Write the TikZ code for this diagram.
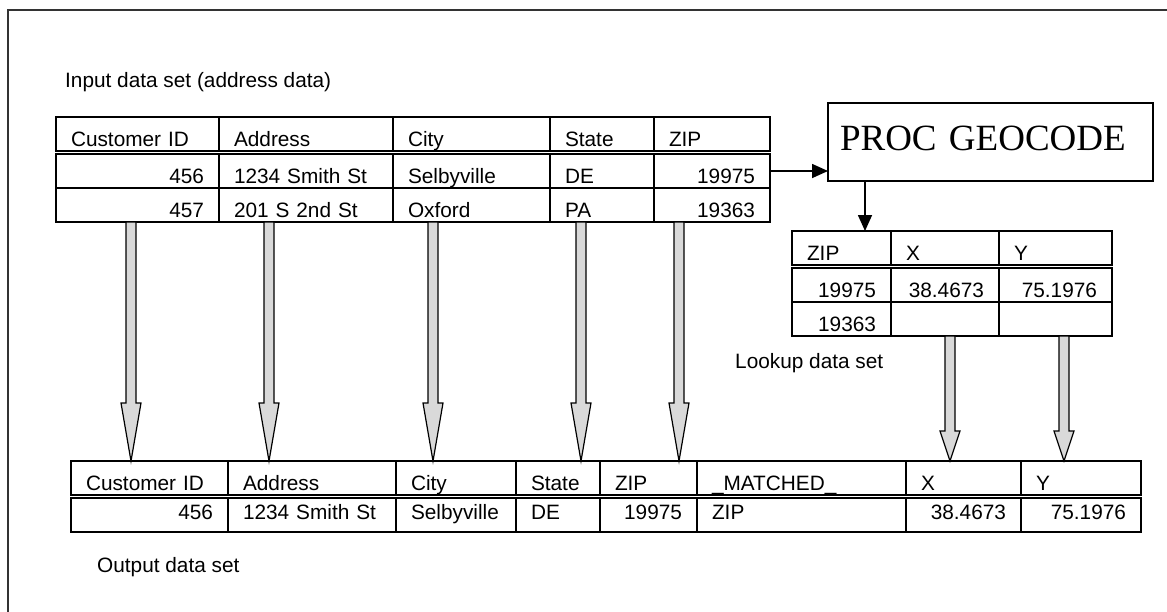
\documentclass[tikz,border=0pt]{standalone}
\usepackage{fontspec}
\setmainfont{Liberation Sans}
\newfontfamily\procfont{Liberation Serif}
\usetikzlibrary{arrows.meta, positioning, calc}
\definecolor{arrowfill}{HTML}{D9D9D9}
\definecolor{framegray}{HTML}{333333}
\newcommand{\tabfont}{\fontsize{20.8}{25}\selectfont}
% gray block arrow: x position, from node, to node, head length
\newcommand{\colarrow}[4]{%
  \draw[fatarrow] let \p1=(#2.south), \p2=(#3.north) in
    (#1pt-5pt,\y1) -- (#1pt-5pt,\y2+#4pt) -- (#1pt-10pt,\y2+#4pt)
    -- (#1pt,\y2) -- (#1pt+10pt,\y2+#4pt) -- (#1pt+5pt,\y2+#4pt)
    -- (#1pt+5pt,\y1) -- cycle;}
\tikzset{
  cell/.style={draw, line width=1.6pt, outer sep=0pt, inner xsep=15pt,
    inner ysep=0pt, minimum height=34pt, text height=24pt, text depth=0pt,
    font=\tabfont},
  lc/.style={cell, text width=#1pt-30pt, align=left},
  rc/.style={cell, text width=#1pt-30pt, align=right},
  mid/.style={text height=12pt, text depth=4pt},
  lbl/.style={font=\tabfont, inner sep=0pt, anchor=base west},
  procbox/.style={draw, line width=1.6pt, outer sep=0pt, inner xsep=12pt,
    inner ysep=0pt, text width=301pt, align=left, minimum height=78pt,
    text height=20pt, text depth=4pt,
    font=\procfont\fontsize{37}{40}\selectfont},
  blk/.style={-{Triangle[length=16pt,width=14pt]}, line width=1.6pt},
  fatarrow/.style={draw=black, fill=arrowfill, line width=1.2pt, line join=miter},
  framebox/.style={draw=framegray, line width=1.8pt},
}

\begin{document}
\begin{tikzpicture}[x=1pt, y=-1pt]
\useasboundingbox (0,0) rectangle (1167,611);
\draw[framebox] (8,10) rectangle (1185,630);

% ---- Input data set ----
\node[lbl] (inlbl) at (65,87) {Input data set (address data)};
\node[lc=163, anchor=north west] (ihcust) at (56,117) {Customer ID};
\node[lc=174, right=0pt of ihcust] (ihaddr) {Address};
\node[lc=157, right=0pt of ihaddr] (ihcity) {City};
\node[lc=104, right=0pt of ihcity] (ihstate) {State};
\node[lc=116, right=0pt of ihstate] (ihzip) {ZIP};

\node[rc=163, below=3pt of ihcust] (i1cust) {456};
\node[lc=174, right=0pt of i1cust] (i1addr) {1234 Smith St};
\node[lc=157, right=0pt of i1addr] (i1city) {Selbyville};
\node[lc=104, right=0pt of i1city] (i1state) {DE};
\node[rc=116, right=0pt of i1state] (i1zip) {19975\hspace*{10pt}};

\node[rc=163, below=0pt of i1cust] (i2cust) {457};
\node[lc=174, right=0pt of i2cust] (i2addr) {201 S 2nd St};
\node[lc=157, right=0pt of i2addr] (i2city) {Oxford};
\node[lc=104, right=0pt of i2city] (i2state) {PA};
\node[rc=116, right=0pt of i2state] (i2zip) {19363\hspace*{8pt}};

% ---- PROC GEOCODE ----
\node[procbox, anchor=north west] (proc) at (828,103) {PROC GEOCODE};

% ---- Lookup data set ----
\node[lc=99, anchor=north west] (lhzip) at (792,231) {ZIP};
\node[lc=108, right=0pt of lhzip] (lhx) {X};
\node[lc=113, right=0pt of lhx] (lhy) {Y};

\node[rc=99, below=3pt of lhzip] (l1zip) {19975};
\node[rc=108, right=0pt of l1zip] (l1x) {38.4673};
\node[rc=113, right=0pt of l1x] (l1y) {75.1976};

\node[rc=99, below=0pt of l1zip] (l2zip) {19363};
\node[rc=108, right=0pt of l2zip] (l2x) {};
\node[rc=113, right=0pt of l2x] (l2y) {};
\node[lbl] (lklbl) at (735,368) {Lookup data set};

% ---- Output data set ----
\node[lc=157, anchor=north west] (ohcust) at (71,461) {Customer ID};
\node[lc=168, right=0pt of ohcust] (ohaddr) {Address};
\node[lc=120, right=0pt of ohaddr] (ohcity) {City};
\node[lc=84, right=0pt of ohcity] (ohstate) {State};
\node[lc=97, right=0pt of ohstate] (ohzip) {ZIP};
\node[lc=209, right=0pt of ohzip] (ohmatch) {\_MATCHED\_};
\node[lc=115, right=0pt of ohmatch] (ohx) {X};
\node[lc=120, right=0pt of ohx] (ohy) {Y};

\node[rc=157, mid, below=3pt of ohcust] (o1cust) {456};
\node[lc=168, mid, right=0pt of o1cust] (o1addr) {1234 Smith St};
\node[lc=120, mid, right=0pt of o1addr] (o1city) {Selbyville};
\node[lc=84, mid, right=0pt of o1city] (o1state) {DE};
\node[rc=97, mid, right=0pt of o1state] (o1zip) {19975};
\node[lc=209, mid, right=0pt of o1zip] (o1match) {ZIP};
\node[rc=115, mid, right=0pt of o1match] (o1x) {38.4673};
\node[rc=120, mid, right=0pt of o1x] (o1y) {75.1976};
\node[lbl] (outlbl) at (97,572) {Output data set};

% ---- Arrows ----
\draw[blk] (i1zip.east) -- (i1zip.east -| proc.west);
\draw[blk] ([xshift=37pt]proc.south west) -- ([xshift=37pt]proc.south west |- lhzip.north);

\colarrow{131}{i2cust}{ohcust}{58}
\colarrow{269}{i2addr}{ohaddr}{58}
\colarrow{433}{i2city}{ohcity}{58}
\colarrow{581}{i2state}{ohstate}{58}
\colarrow{679}{i2zip}{ohzip}{58}
\colarrow{950}{l2x}{ohx}{30}
\colarrow{1064}{l2y}{ohy}{30}

\end{tikzpicture}
\end{document}
